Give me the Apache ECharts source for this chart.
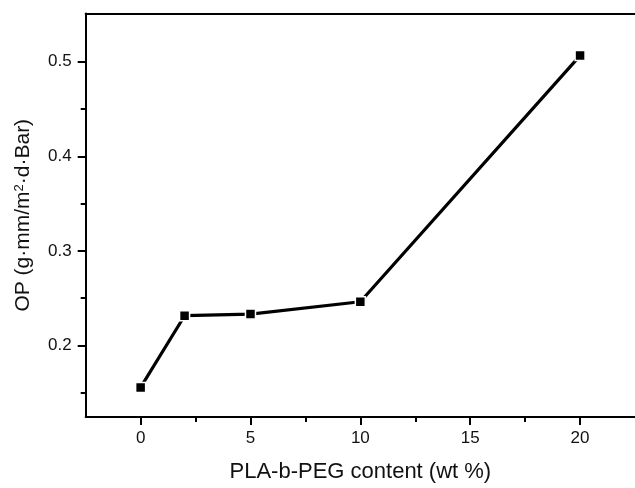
<!DOCTYPE html>
<html>
<head>
<meta charset="utf-8">
<script src="https://cdn.jsdelivr.net/npm/echarts@6/dist/echarts.min.js"></script>
<style>
  html, body { margin: 0; padding: 0; background: #ffffff; }
  #chart { width: 635px; height: 488px; }
</style>
</head>
<body>
<div id="chart"></div>
<script>
// PLA-b-PEG content (wt %) and measured oxygen permeability
const contents = [0, 2, 5, 10, 20];
const opValues = [0.1556, 0.2314, 0.2331, 0.2462, 0.5065];

// Tick positions
const xMajorTicks = [0, 5, 10, 15, 20];
const xMinorTicks = [2.5, 7.5, 12.5, 17.5];
const yMajorTicks = [0.2, 0.3, 0.4, 0.5];
const yMinorTicks = [0.15, 0.25, 0.35, 0.45];

const FONT = "'Liberation Sans', Arial, sans-serif";
const X_MIN = -2.5, X_MAX = 22.5;
const Y_MIN = 0.1243, Y_MAX = 0.551;

const chart = echarts.init(document.getElementById('chart'), null, { renderer: 'canvas' });

const axisLine = { show: true, onZero: false, lineStyle: { color: '#000', width: 2 } };
const noLine = { show: false, onZero: false };

chart.setOption({
  backgroundColor: '#ffffff',
  animation: false,
  grid: { left: 85.7, top: 13.5, width: 554.7, height: 408.2, containLabel: false },
  xAxis: [
    {
      type: 'value', position: 'bottom', min: X_MIN, max: X_MAX,
      axisLine: axisLine,
      axisTick: { show: true, customValues: xMajorTicks, length: 8, inside: false,
                  lineStyle: { color: '#000', width: 2 } },
      axisLabel: { show: true, customValues: xMajorTicks, margin: 13, color: '#111',
                   fontSize: 17, fontFamily: FONT, formatter: v => String(v) },
      splitLine: { show: false },
      name: 'PLA-b-PEG content (wt %)', nameLocation: 'middle', nameGap: 44,
      nameTextStyle: { fontSize: 22, fontFamily: FONT, color: '#111' }
    },
    {
      type: 'value', position: 'bottom', min: X_MIN, max: X_MAX, gridIndex: 0,
      axisLine: noLine,
      axisTick: { show: true, customValues: xMinorTicks, length: 5,
                  lineStyle: { color: '#000', width: 2 } },
      axisLabel: { show: false },
      splitLine: { show: false }
    },
    {
      type: 'value', position: 'top', min: X_MIN, max: X_MAX, gridIndex: 0,
      axisLine: axisLine,
      axisTick: { show: false }, axisLabel: { show: false }, splitLine: { show: false }
    }
  ],
  yAxis: [
    {
      type: 'value', position: 'left', min: Y_MIN, max: Y_MAX,
      axisLine: axisLine,
      axisTick: { show: true, customValues: yMajorTicks, length: 8,
                  lineStyle: { color: '#000', width: 2 } },
      axisLabel: { show: true, customValues: yMajorTicks, margin: 14, color: '#111',
                   fontSize: 17, fontFamily: FONT, formatter: v => v.toFixed(1) },
      splitLine: { show: false },
      name: '{t|OP (g·mm/m}{s|2}{t|·d·Bar)}', nameLocation: 'middle', nameGap: 52,
      nameRotate: 90,
      nameTextStyle: {
        fontSize: 21, fontFamily: FONT, color: '#111',
        rich: {
          t: { fontSize: 21, fontFamily: FONT, color: '#111' },
          s: { fontSize: 13, fontFamily: FONT, color: '#111', verticalAlign: 'top', padding: [0, 0, 8, 0] }
        }
      }
    },
    {
      type: 'value', position: 'left', min: Y_MIN, max: Y_MAX, gridIndex: 0,
      axisLine: noLine,
      axisTick: { show: true, customValues: yMinorTicks, length: 5,
                  lineStyle: { color: '#000', width: 2 } },
      axisLabel: { show: false },
      splitLine: { show: false }
    }
  ],
  series: [
    {
      type: 'line',
      xAxisIndex: 0, yAxisIndex: 0,
      data: contents.map((c, i) => [c, opValues[i]]),
      symbol: 'rect', symbolSize: 10,
      lineStyle: { color: '#000', width: 3.2 },
      itemStyle: { color: '#000', borderColor: '#fff', borderWidth: 1.5 },
      clip: false
    }
  ]
});
</script>
</body>
</html>
